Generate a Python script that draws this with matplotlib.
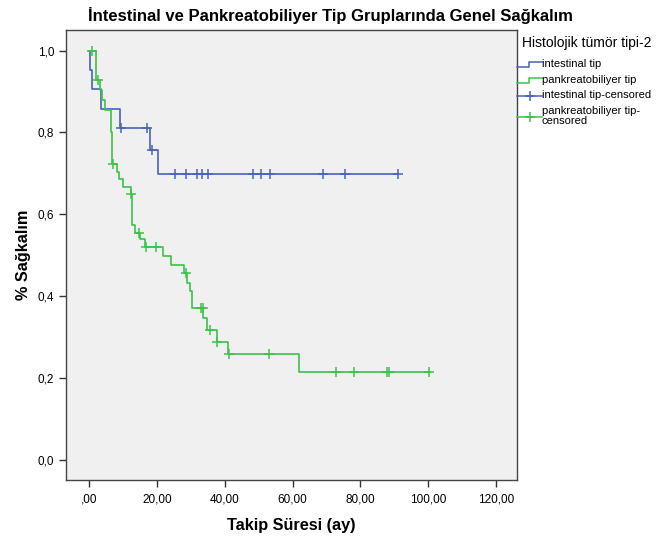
import matplotlib
matplotlib.use('Agg')
import matplotlib.pyplot as plt
from matplotlib.lines import Line2D

plt.rcParams['font.family'] = ['Liberation Sans', 'DejaVu Sans']

# intestinal tip - basamak zamanlari ve sagkalim degerleri
int_t = [0, 0.2, 1.0, 3.6, 9.1, 18.0, 20.2, 91.0]
int_s = [1.0, 0.953, 0.905, 0.857, 0.81, 0.757, 0.698, 0.698]
int_cens_t = [9.4, 17.2, 18.6, 25.2, 28.6, 31.8, 33.3, 35.0, 48.2, 50.6, 53.3, 69.0, 75.5, 91.0]
int_cens_s = [0.81, 0.81, 0.757, 0.698, 0.698, 0.698, 0.698, 0.698, 0.698, 0.698, 0.698, 0.698, 0.698, 0.698]

# pankreatobiliyer tip
pan_t = [0, 2.2, 3.1, 3.9, 4.7, 6.4, 6.9, 8.3, 8.9, 9.9, 12.3, 12.8, 13.6, 15.0, 16.5,
         21.9, 24.1, 28.0, 28.8, 29.8, 30.3, 33.7, 34.9, 37.6, 41.0, 61.8, 100.5]
pan_s = [1.0, 0.929, 0.904, 0.88, 0.854, 0.80, 0.724, 0.703, 0.687, 0.667, 0.65, 0.573, 0.554, 0.54, 0.52,
         0.498, 0.477, 0.457, 0.433, 0.413, 0.37, 0.346, 0.317, 0.289, 0.258, 0.214, 0.214]
pan_cens_t = [0.9, 2.5, 7.2, 12.5, 14.8, 16.8, 19.8, 28.5, 33.0, 33.6, 35.8, 37.8, 41.4, 53.1,
              72.7, 78.1, 87.7, 88.5, 100.3]
pan_cens_s = [1.0, 0.929, 0.724, 0.65, 0.554, 0.52, 0.52, 0.457, 0.37, 0.37, 0.317, 0.289, 0.258, 0.258,
              0.214, 0.214, 0.214, 0.214, 0.214]

xticks = [0, 20, 40, 60, 80, 100, 120]
xlabels = [',00', '20,00', '40,00', '60,00', '80,00', '100,00', '120,00']
yticks = [0, 0.2, 0.4, 0.6, 0.8, 1.0]
ylabels = ['0,0', '0,2', '0,4', '0,6', '0,8', '1,0']

blue = '#4a62b8'
green = '#3cc24a'

fig = plt.figure(figsize=(6.61, 5.39), dpi=100)
ax = fig.add_axes([0.0998, 0.1095, 0.6825, 0.8355])
ax.set_facecolor('#f0f0f0')

ax.step(int_t, int_s, where='post', color=blue, lw=1.2)
ax.step(pan_t, pan_s, where='post', color=green, lw=1.2)
ax.plot(int_cens_t, int_cens_s, ls='none', marker='+', ms=7, mew=1.1, color=blue)
ax.plot(pan_cens_t, pan_cens_s, ls='none', marker='+', ms=7, mew=1.1, color=green)

ax.set_xlim(-6.8, 126.2)
ax.set_ylim(-0.049, 1.051)
ax.set_xticks(xticks)
ax.set_xticklabels(xlabels, fontsize=8.5)
ax.set_yticks(yticks)
ax.set_yticklabels(ylabels, fontsize=8.5)
ax.tick_params(direction='out', length=5, width=1, color='#333333')
ax.tick_params(axis='x', pad=5)
for sp in ax.spines.values():
    sp.set_color('#444444')
    sp.set_linewidth(1)

ax.set_xlabel('Takip Süresi (ay)', fontsize=11.7, fontweight='bold', labelpad=9)
ax.set_ylabel('% Sağkalım', fontsize=11.7, fontweight='bold', labelpad=5)
fig.text(330 / 661, 1 - 16 / 539, 'İntestinal ve Pankreatobiliyer Tip Gruplarında Genel Sağkalım',
         ha='center', va='center', fontsize=12, fontweight='bold')

# lejant (SPSS tarzi, elle)
W, H = 661, 539
def fx(px):
    return px / W
def fy(py):
    return 1 - py / H

fig.text(fx(522), fy(43), 'Histolojik tümör tipi-2', fontsize=10, va='center', ha='left')
items = [(blue, 'intestinal tip', 64, 'step'),
         (green, 'pankreatobiliyer tip', 80, 'step'),
         (blue, 'intestinal tip-censored', 95, 'cens'),
         (green, 'pankreatobiliyer tip-\ncensored', 116, 'cens')]
for col, lab, yy, kind in items:
    if kind == 'step':
        fig.add_artist(Line2D([fx(517), fx(529), fx(529), fx(542)],
                              [fy(yy + 3), fy(yy + 3), fy(yy - 2), fy(yy - 2)], color=col, lw=1.1))
    else:
        fig.add_artist(Line2D([fx(517), fx(542)], [fy(yy + 1), fy(yy + 1)], color=col, lw=1.1))
        fig.add_artist(Line2D([fx(530)], [fy(yy + 1)], marker='+', ms=7, mew=1.1, color=col, ls='none'))
    fig.text(fx(542), fy(yy), lab, fontsize=8, va='center', ha='left', linespacing=0.95)

fig.savefig('out.png', dpi=100)
